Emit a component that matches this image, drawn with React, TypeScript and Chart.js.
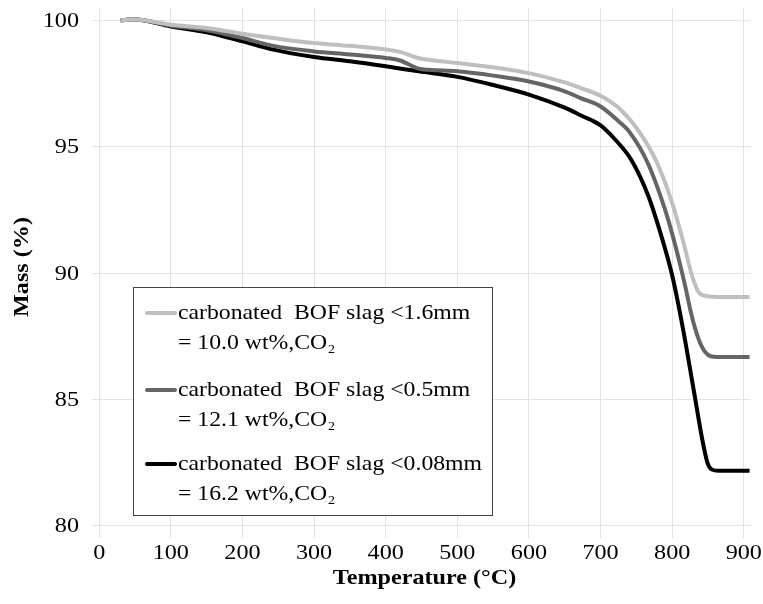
import { useEffect, useRef } from "react";
import { Chart, registerables } from "chart.js";

Chart.register(...registerables);

// ---- data ----
const TEMP_16 = [30, 47, 100, 150, 200, 243, 300, 350, 400, 420, 445, 460, 500, 550, 600, 650, 672, 700, 728, 755, 779, 800, 816, 828, 838, 849, 870, 908];
const MASS_16 = [100, 100.05, 99.84, 99.71, 99.48, 99.31, 99.11, 99.0, 98.86, 98.76, 98.52, 98.45, 98.32, 98.15, 97.92, 97.55, 97.33, 97.02, 96.47, 95.55, 94.35, 92.77, 91.18, 89.86, 89.2, 89.08, 89.05, 89.05];

const TEMP_05 = [30, 47, 100, 150, 200, 243, 300, 350, 400, 420, 446, 460, 500, 550, 600, 650, 672, 700, 728, 740, 766, 789, 800, 810, 818, 826, 832, 838, 844, 850, 858, 870, 908];
const MASS_05 = [100, 100.05, 99.8, 99.62, 99.31, 99.0, 98.78, 98.66, 98.52, 98.42, 98.1, 98.05, 97.99, 97.82, 97.59, 97.2, 96.93, 96.6, 95.94, 95.6, 94.35, 92.6, 91.55, 90.45, 89.5, 88.45, 87.8, 87.3, 86.95, 86.76, 86.68, 86.67, 86.67];

const TEMP_008 = [30, 47, 100, 150, 200, 243, 300, 350, 400, 446, 500, 550, 600, 650, 672, 700, 720, 743, 766, 785, 800, 815, 831, 842, 849, 855, 865, 908];
const MASS_008 = [100, 100.05, 99.77, 99.54, 99.18, 98.85, 98.56, 98.39, 98.19, 97.99, 97.77, 97.45, 97.07, 96.55, 96.25, 95.85, 95.3, 94.48, 93.1, 91.45, 89.9, 87.8, 85.2, 83.4, 82.5, 82.22, 82.16, 82.16];

const SERIES_NAMES = ["carbonated  BOF slag <1.6mm", "carbonated  BOF slag <0.5mm", "carbonated  BOF slag <0.08mm"];
const SERIES_NOTES = ["= 10.0 wt%,CO\u2082", "= 12.1 wt%,CO\u2082", "= 16.2 wt%,CO\u2082"];
const SERIES_COLORS = ["#bfbfbf", "#656565", "#000000"];

const X_TICKS = [0, 100, 200, 300, 400, 500, 600, 700, 800, 900];
const Y_TICKS = [80, 85, 90, 95, 100];

const X_TITLE = "Temperature (\u00B0C)";
const Y_TITLE = "Mass (%)";

const FONT = "'Liberation Serif', 'Times New Roman', serif";
const STRETCH = 1.15;

const toPoints = (xs: number[], ys: number[]) => xs.map((x, i) => ({ x, y: ys[i] }));

function drawText(ctx: any, text: string, x: number, y: number, align: string, stretch: number, rotate = 0) {
  ctx.save();
  ctx.translate(x, y);
  if (rotate) ctx.rotate(rotate);
  ctx.scale(stretch, 1);
  ctx.textAlign = align;
  ctx.textBaseline = "middle";
  ctx.fillText(text, 0, 0);
  ctx.restore();
}

const textPlugin = {
  id: "stretchedText",
  afterDraw(chart: any) {
    const ctx = chart.ctx;
    const xs = chart.scales.x;
    const ys = chart.scales.y;
    ctx.save();
    ctx.fillStyle = "#000000";
    ctx.font = `21px ${FONT}`;
    X_TICKS.forEach((v) => drawText(ctx, String(v), xs.getPixelForValue(v), 553, "center", STRETCH));
    Y_TICKS.forEach((v) => drawText(ctx, String(v), 79, ys.getPixelForValue(v) + 1, "right", STRETCH));
    ctx.font = `bold 21px ${FONT}`;
    drawText(ctx, X_TITLE, (chart.chartArea.left + chart.chartArea.right) / 2 + 3, 579, "center", STRETCH);
    drawText(ctx, Y_TITLE, 23, 267, "center", STRETCH, -Math.PI / 2);
    ctx.restore();

    // legend box
    const left = 133, top = 287, right = 492, bottom = 515;
    ctx.save();
    ctx.fillStyle = "#ffffff";
    ctx.fillRect(left, top, right - left, bottom - top);
    ctx.strokeStyle = "#444444";
    ctx.lineWidth = 1;
    ctx.strokeRect(left + 0.5, top + 0.5, right - left, bottom - top);
    const rowY = [313, 390, 464];
    ctx.font = `21px ${FONT}`;
    chart.data.datasets.forEach((ds: any, i: number) => {
      const y = rowY[i];
      ctx.strokeStyle = ds.borderColor;
      ctx.lineWidth = 4;
      ctx.lineCap = "round";
      ctx.beginPath();
      ctx.moveTo(147, y);
      ctx.lineTo(175, y);
      ctx.stroke();
      ctx.fillStyle = "#000000";
      drawText(ctx, SERIES_NAMES[i], 178, y, "left", 1.13);
      drawText(ctx, SERIES_NOTES[i], 178, y + 30, "left", 1.13);
    });
    ctx.restore();
  },
};

export default function App() {
  const ref = useRef<HTMLCanvasElement | null>(null);
  useEffect(() => {
    if (!ref.current) return;
    const series = [
      toPoints(TEMP_16, MASS_16),
      toPoints(TEMP_05, MASS_05),
      toPoints(TEMP_008, MASS_008),
    ];
    const chart = new Chart(ref.current, {
      type: "line",
      data: {
        datasets: series.map((pts, i) => ({
          label: SERIES_NAMES[i],
          data: pts,
          borderColor: SERIES_COLORS[i],
          backgroundColor: SERIES_COLORS[i],
          borderWidth: 4,
          pointRadius: 0,
          cubicInterpolationMode: "monotone" as const,
          fill: false,
        })),
      },
      options: {
        animation: false,
        responsive: false,
        devicePixelRatio: 1,
        layout: { padding: { left: 0, top: 8, right: 12, bottom: 0 } },
        plugins: { legend: { display: false }, tooltip: { enabled: false } },
        scales: {
          x: {
            type: "linear",
            min: -10,
            max: 910,
            afterBuildTicks: (scale: any) => {
              scale.ticks = X_TICKS.map((v) => ({ value: v }));
            },
            afterFit: (scale: any) => {
              scale.height = 66;
              scale.paddingLeft = 0;
              scale.paddingRight = 0;
            },
            ticks: { display: false, autoSkip: false },
            grid: { color: "#e3e3e3", lineWidth: 1, drawTicks: false },
            border: { display: false },
            title: { display: false, text: X_TITLE },
          },
          y: {
            type: "linear",
            min: 79.5,
            max: 100.5,
            afterBuildTicks: (scale: any) => {
              scale.ticks = Y_TICKS.map((v) => ({ value: v }));
            },
            afterFit: (scale: any) => {
              scale.width = 92;
              scale.paddingTop = 0;
              scale.paddingBottom = 0;
            },
            ticks: { display: false, autoSkip: false },
            grid: { color: "#e3e3e3", lineWidth: 1, drawTicks: false },
            border: { display: false },
            title: { display: false, text: Y_TITLE },
          },
        },
      },
      plugins: [textPlugin],
    });
    return () => chart.destroy();
  }, []);
  return (
    <div style={{ position: "absolute", left: 0, top: 0, width: 763, height: 604, background: "#fff" }}>
      <canvas ref={ref} width={763} height={604} style={{ width: 763, height: 604, display: "block" }} />
    </div>
  );
}
